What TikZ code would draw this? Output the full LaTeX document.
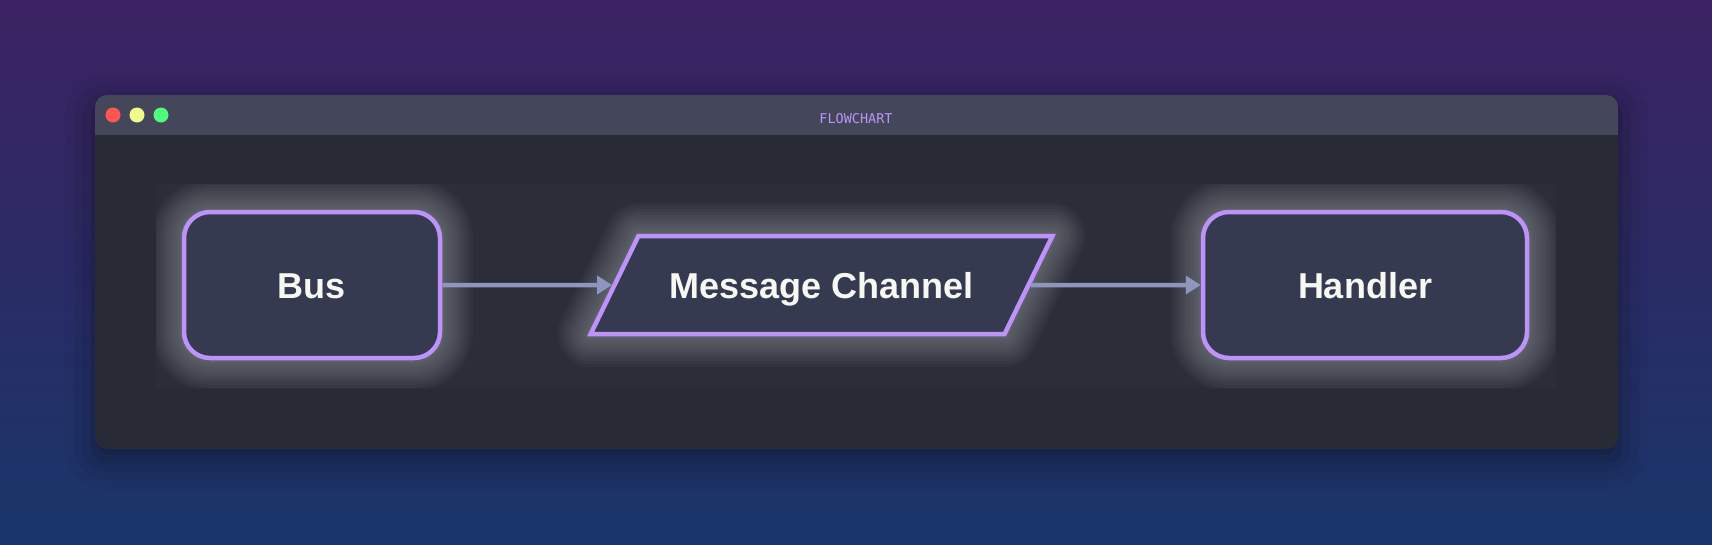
\documentclass[tikz,border=0pt]{standalone}
\usepackage{fontspec}
\setmainfont{Liberation Sans}
\newfontfamily\titlefont{DejaVu Sans Mono}
\usetikzlibrary{shapes.geometric,arrows.meta,shadows.blur}

\definecolor{bgtop}{HTML}{3C2262}
\definecolor{bgbot}{HTML}{19366A}
\definecolor{winbar}{HTML}{44475A}
\definecolor{winbody}{HTML}{282A36}
\definecolor{boxfill}{HTML}{353A50}
\definecolor{boxline}{HTML}{BD93F9}
\definecolor{boxtext}{HTML}{F8F8F2}
\definecolor{flowline}{HTML}{8D97BE}
\definecolor{dotred}{HTML}{FF5555}
\definecolor{dotyellow}{HTML}{F1FA8C}
\definecolor{dotgreen}{HTML}{50FA7B}

\tikzset{
  halo/.style={preaction={draw=white,draw opacity=.027,line width=#1,line join=round}},
  glow/.style={halo=66pt,halo=60pt,halo=54pt,halo=48pt,halo=42pt,halo=36pt,
    halo=30pt,halo=24pt,halo=18pt,halo=12pt,halo=8pt},
  box/.style={draw=boxline,fill=boxfill,line width=4.5pt,text=boxtext,
    font=\bfseries\fontsize{36}{43}\selectfont,text height=26pt,text depth=0pt,glow},
  dot/.style={circle,inner sep=0pt,minimum size=15pt}
}

\begin{document}
\begin{tikzpicture}[x=1pt,y=-1pt]

      \useasboundingbox (0,0) rectangle (1712,544);
      \shade[top color=bgtop,bottom color=bgbot] (0,0) rectangle (1712,544);

      % window
      \path[fill=winbody,rounded corners=12pt,
        blur shadow={shadow xshift=0pt,shadow yshift=-10pt,shadow blur radius=30pt,shadow opacity=45}]
        (95,95) rectangle (1618,449);
      \begin{scope}
        \clip[rounded corners=12pt] (95,95) rectangle (1618,449);
        \fill[winbody] (95,95) rectangle (1618,449);
        \fill[winbar] (95,95) rectangle (1618,135);
      \end{scope}

      \node[dot,fill=dotred] (close) at (113,115) {};
      \node[dot,fill=dotyellow] (min) at (137,115) {};
      \node[dot,fill=dotgreen] (max) at (161,115) {};
      \node[font=\titlefont\fontsize{13.5}{15}\selectfont,text=boxline] (title) at (856,119) {FLOWCHART};

      \begin{scope}
        \clip (156,184) rectangle (1556,388);
        \fill[white,opacity=.015] (156,184) rectangle (1556,388);

        \begin{scope}[every node/.style={box}]
          \node[rectangle,rounded corners=26pt,minimum width=256pt,minimum height=146pt] (bus) at (312,285) {Bus};
          \node[trapezium,trapezium left angle=64,trapezium right angle=116,
            inner xsep=31pt,inner ysep=36pt] (channel) at (821.5,285) {Message Channel};
          \node[rectangle,rounded corners=26pt,minimum width=324pt,minimum height=146pt] (handler) at (1365,285) {Handler};
        \end{scope}

        \begin{scope}[every edge/.style={draw=flowline,line width=4.5pt,-{Triangle[length=15pt,width=18pt]}}]
          \path (bus) edge (channel);
          \path (channel) edge (handler);
        \end{scope}
      \end{scope}

    \end{tikzpicture}
\end{document}
